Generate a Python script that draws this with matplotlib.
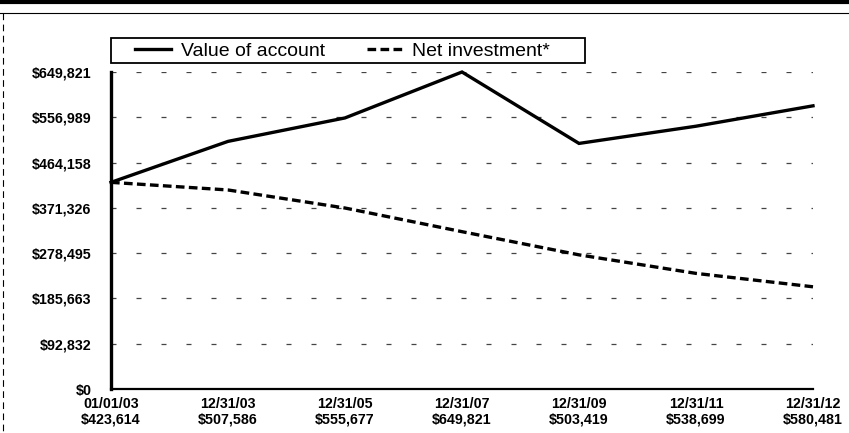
import matplotlib
matplotlib.use("Agg")
import matplotlib.pyplot as plt
from matplotlib.lines import Line2D
from matplotlib.patches import Rectangle

dates = ["01/01/03", "12/31/03", "12/31/05", "12/31/07", "12/31/09", "12/31/11", "12/31/12"]
value_of_account = [423614, 507586, 555677, 649821, 503419, 538699, 580481]
net_investment = [423614, 408000, 371000, 322500, 275000, 237000, 209500]
ytick_values = [0, 92832, 185663, 278495, 371326, 464158, 556989, 649821]
ytick_labels = ["$0", "$92,832", "$185,663", "$278,495", "$371,326", "$464,158", "$556,989", "$649,821"]
xtick_labels = [f"{d}\n${v:,.0f}" for d, v in zip(dates, value_of_account)]

W, H = 849, 433
fig = plt.figure(figsize=(W / 100, H / 100), dpi=100)
ax = fig.add_axes([111 / W, 1 - 389 / H, (813 - 111) / W, (389 - 72) / H])

x = list(range(len(dates)))
ax.plot(x, value_of_account, color="black", lw=2.4, solid_joinstyle="miter",
        label="Value of account", clip_on=False, zorder=3)
ax.plot(x, net_investment, color="black", lw=2.4, linestyle=(0, (2.6, 1.3)),
        label="Net investment*", clip_on=False, zorder=3)

ax.set_xlim(0, len(dates) - 1)
ax.set_ylim(0, 649821)
ax.set_yticks(ytick_values)
ax.set_yticklabels(ytick_labels)
ax.set_xticks(x)
ax.set_xticklabels(xtick_labels, linespacing=1.15)

for lab in ax.get_yticklabels() + ax.get_xticklabels():
    lab.set_fontfamily(["Liberation Sans", "DejaVu Sans"])
    lab.set_fontweight("bold")
    lab.set_fontsize(10.3)

ax.tick_params(axis="y", length=0, pad=14)
ax.tick_params(axis="x", length=0, pad=6)

for y in ytick_values[1:]:
    ax.axhline(y, color="#444444", lw=0.9, linestyle=(0, (4, 16)), zorder=1)

for s in ["top", "right"]:
    ax.spines[s].set_visible(False)
ax.spines["left"].set_linewidth(2.4)
ax.spines["bottom"].set_linewidth(1.6)

# legend (frameless) with a separate box around it
leg = fig.legend(loc="center left", ncol=2,
                 bbox_to_anchor=(135 / W, 1 - 51 / H),
                 prop=dict(family=["Liberation Sans", "DejaVu Sans"], size=14),
                 frameon=False, handlelength=1.85, handletextpad=0.5,
                 borderaxespad=0, borderpad=0, columnspacing=2.15)
fig.add_artist(Rectangle((111 / W, 1 - 63 / H), (585 - 111) / W, 25 / H,
                         transform=fig.transFigure, fill=False,
                         edgecolor="black", lw=1.3))

# scanned border lines
fig.add_artist(Line2D([0, 1], [1 - 1.5 / H, 1 - 1.5 / H], color="black", lw=3, transform=fig.transFigure))
fig.add_artist(Line2D([0, 1], [1 - 13 / H, 1 - 13 / H], color="black", lw=0.8, transform=fig.transFigure))
fig.add_artist(Line2D([2.5 / W, 2.5 / W], [1 - 13 / H, 0], color="black", lw=0.8,
                      linestyle=(0, (6, 4)), transform=fig.transFigure))

fig.savefig("out.png", dpi=100)
